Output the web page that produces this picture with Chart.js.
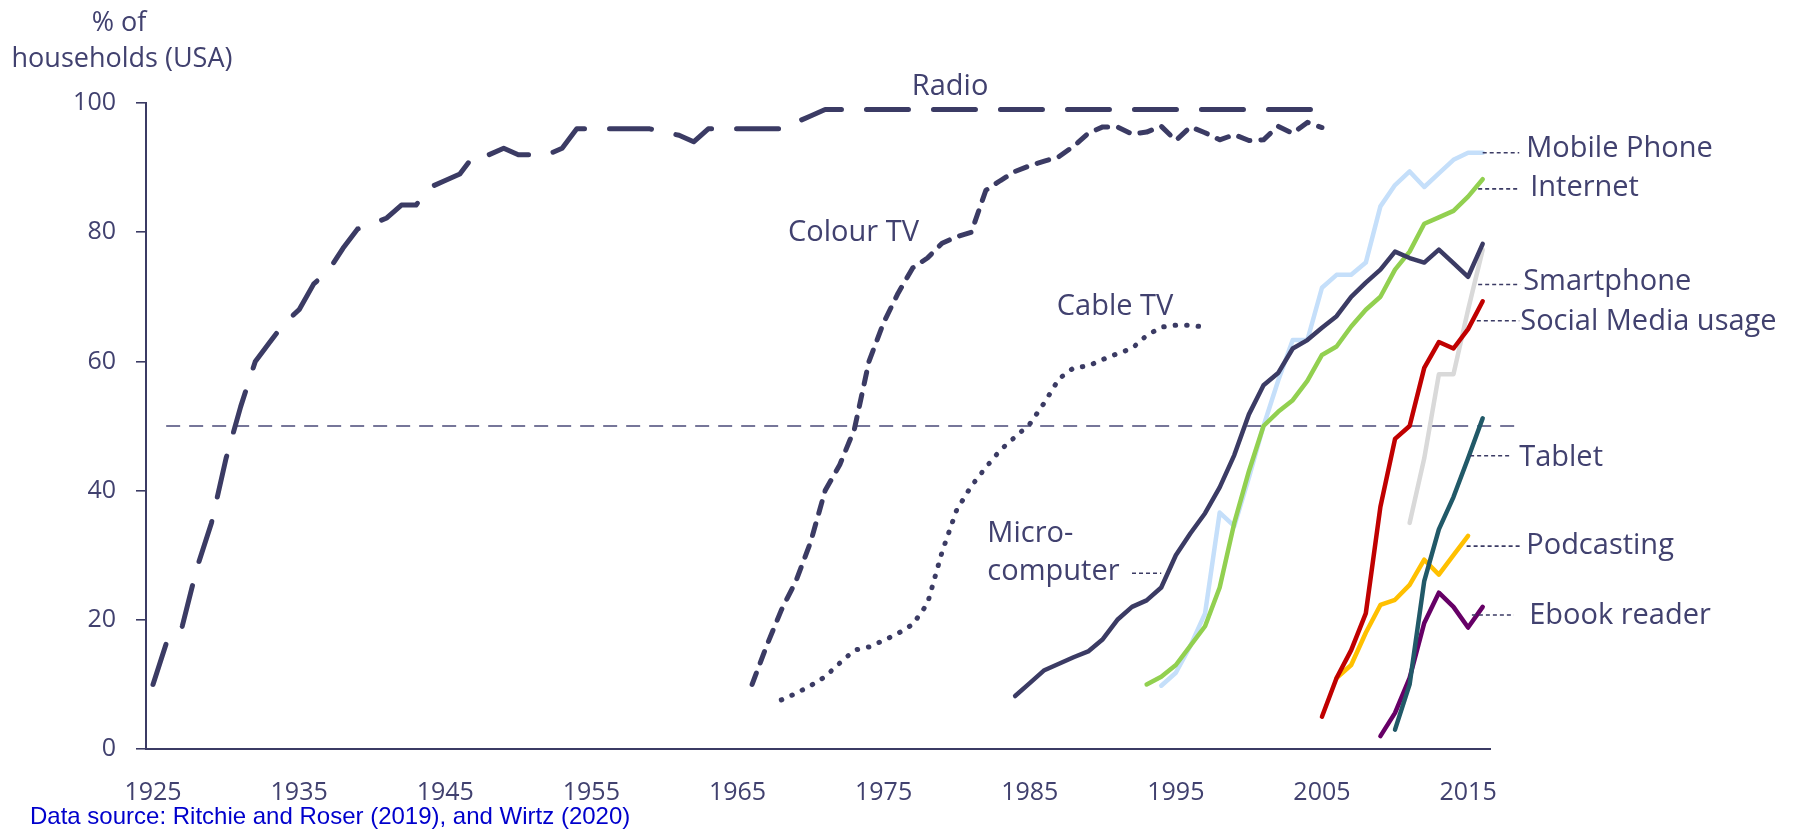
<!DOCTYPE html>
<html lang="en">
  <head>
    <meta charset="UTF-8" />
    <title>Technology adoption in US households</title>
    <style>
      html, body { margin: 0; padding: 0; background: #ffffff; }
      .container { position: relative; width: 1800px; height: 832px; }
    </style>
  </head>
  <body>
    <div class="container">
      <canvas id="myChart"></canvas>
    </div>
    <script src="https://cdn.jsdelivr.net/npm/chart.js"></script>
    <script>
      // x axis ticks
      const tickYears = [1925, 1935, 1945, 1955, 1965, 1975, 1985, 1995, 2005, 2015];

      // each series: first year + one value per year (% of US households)
      const radioStart = 1925;
      const radio = [10, 17, 19, 28, 35, 45, 53, 60, 63, 66, 68, 72, 74, 77.5, 80.5, 81.3, 82.2, 84.2, 84.2, 87,
        88, 89, 92, 92, 93, 92, 92, 92, 93, 96, 96, 96, 96, 96, 96, 95.5, 95, 94, 96, 96,
        96, 96, 96, 96, 97, 98, 99, 99, 99, 99, 99, 99, 99, 99, 99, 99, 99, 99, 99, 99,
        99, 99, 99, 99, 99, 99, 99, 99, 99, 99, 99, 99, 99, 99, 99, 99, 99, 99, 99, 99, 99];

      const colourTvStart = 1966;
      const colourTv = [10, 16, 21.5, 26, 32, 40, 44, 49.5, 60, 66, 70.6, 74.5, 76, 78.3, 79.3, 80, 86.5, 88, 89.4, 90.3,
        91, 91.7, 93.3, 95.3, 96.3, 96.3, 95.2, 95.5, 96.4, 94.2, 96.3, 95.4, 94.3, 95.1, 94.2, 94.3, 96.4, 95.3, 97, 96.2];

      const cableTvStart = 1968;
      const cableTv = [7.6, 8.6, 9.8, 11.2, 13.3, 15.3, 15.8, 16.8, 17.9, 19.3, 22.5, 30.5, 37, 40.7, 43.6, 46.3, 48.3, 50.3, 53.6, 57.3,
        59, 59.3, 60.3, 61.2, 62, 64, 65.3, 65.6, 65.6, 65.3];

      const microStart = 1984;
      const micro = [8.2, 10.2, 12.2, 13.2, 14.2, 15.1, 17, 20, 22, 23, 25, 30, 33.4, 36.5, 40.5, 45.5, 51.8, 56.3, 58.2, 62,
        63.3, 65.2, 67, 70, 72.2, 74.2, 77, 76, 75.3, 77.3, 75.2, 73.1, 78.2];

      const mobileStart = 1994;
      const mobile = [9.8, 11.8, 16, 21, 36.6, 34.5, 42, 50, 57, 63.3, 63.3, 71.4, 73.4, 73.4, 75.3, 84, 87.3, 89.4, 87, 89.1,
        91.2, 92.3, 92.3];

      const internetStart = 1993;
      const internet = [10, 11.2, 13, 16, 19, 25, 35, 43, 50, 52.2, 54, 57, 61, 62.3, 65.4, 68, 70, 74.2, 77, 81.3,
        82.3, 83.3, 85.5, 88.2];

      const smartphoneStart = 2011;
      const smartphone = [35, 45, 58, 58, 68, 77.3];

      const socialStart = 2005;
      const social = [5, 11, 15.3, 21, 37.5, 48, 50, 59, 63, 62, 65, 69.3];

      const tabletStart = 2010;
      const tablet = [3, 10, 26, 34, 39, 45, 51.2];

      const podcastStart = 2006;
      const podcast = [11, 13, 18, 22.3, 23.1, 25.4, 29.3, 27, 30, 33];

      const ebookStart = 2009;
      const ebook = [2, 5.6, 11, 19.5, 24.2, 22, 18.8, 22];

      // 50% reference line, from / to year
      const halfYears = [1925.9, 2018.5];
      const halfValue = 50;

      const navy = '#3b3b64';
      const textColor = '#41416f';
      const font = "'Open Sans', 'Noto Sans', sans-serif";

      const toPoints = (start, values) => values.map((v, i) => ({ x: start + i, y: v }));

      const line = (label, start, values, color, extra) => Object.assign({
        label: label,
        data: toPoints(start, values),
        borderColor: color,
        borderWidth: 4.5,
        borderCapStyle: 'round',
        borderJoinStyle: 'round',
        pointRadius: 0,
        tension: 0,
        fill: false,
      }, extra || {});

      // labels next to the lines, in data units (year, %)
      const notes = [
        { text: 'Radio', x: 1979.55, y: 102.5, align: 'center' },
        { text: 'Colour TV', x: 1968.46, y: 79.9 },
        { text: 'Cable TV', x: 1986.85, y: 68.5 },
        { text: 'Micro-', x: 1982.1, y: 33.3 },
        { text: 'computer', x: 1982.1, y: 27.5, lead: [1992.0, 1994.0, 27.2] },
        { text: 'Mobile Phone', x: 2018.98, y: 92.9, lead: [2016.0, 2018.5, 92.3] },
        { text: 'Internet', x: 2019.25, y: 86.9, lead: [2015.69, 2018.5, 86.7] },
        { text: 'Smartphone', x: 2018.77, y: 72.3, lead: [2015.69, 2018.57, 71.9] },
        { text: 'Social Media usage', x: 2018.57, y: 66.1, lead: [2015.6, 2018.5, 66.3] },
        { text: 'Tablet', x: 2018.5, y: 45.1, lead: [2015.14, 2017.86, 45.4] },
        { text: 'Podcasting', x: 2018.98, y: 31.4, lead: [2014.9, 2018.57, 31.4] },
        { text: 'Ebook reader', x: 2019.18, y: 20.6, lead: [2015.26, 2018.14, 20.75] },
      ];

      const notesPlugin = {
        id: 'notes',
        afterDatasetsDraw(chart) {
          const { ctx, scales } = chart;
          const xs = scales.x, ys = scales.y;
          ctx.save();
          notes.forEach((n) => {
            if (n.lead) {
              ctx.beginPath();
              ctx.setLineDash([4, 3]);
              ctx.lineWidth = 1.6;
              ctx.strokeStyle = navy;
              const ly = ys.getPixelForValue(n.lead[2]);
              ctx.moveTo(xs.getPixelForValue(n.lead[0]), ly);
              ctx.lineTo(xs.getPixelForValue(n.lead[1]), ly);
              ctx.stroke();
            }
            ctx.setLineDash([]);
            ctx.fillStyle = textColor;
            ctx.font = '29px ' + font;
            ctx.textAlign = n.align || 'left';
            ctx.textBaseline = 'middle';
            ctx.fillText(n.text, xs.getPixelForValue(n.x), ys.getPixelForValue(n.y));
          });
          ctx.restore();
        },
        afterDraw(chart) {
          const ctx = chart.ctx;
          ctx.save();
          ctx.fillStyle = textColor;
          ctx.font = '27px ' + font;
          ctx.textAlign = 'center';
          ctx.textBaseline = 'middle';
          ctx.fillText('% of', 119, 23);
          ctx.fillText('households (USA)', 122, 59);
          ctx.fillStyle = '#0000cc';
          ctx.font = "24px 'Liberation Sans', Arial, sans-serif";
          ctx.textAlign = 'left';
          ctx.fillText('Data source: Ritchie and Roser (2019), and Wirtz (2020)', 30, 817);
          ctx.restore();
        },
      };

      const data = {
        datasets: [
          line('Radio', radioStart, radio, navy, { borderWidth: 5, borderDash: [42, 25] }),
          line('Colour TV', colourTvStart, colourTv, navy, { borderWidth: 5, borderDash: [12, 11] }),
          line('Cable TV', cableTvStart, cableTv, navy, { borderWidth: 5, borderDash: [0.5, 11] }),
          line('Microcomputer', microStart, micro, navy),
          line('Tablet', tabletStart, tablet, '#215968'),
          line('Ebook reader', ebookStart, ebook, '#660066'),
          line('Social Media usage', socialStart, social, '#c00000'),
          line('Podcasting', podcastStart, podcast, '#ffc000'),
          line('Internet', internetStart, internet, '#92d050'),
          line('Smartphone', smartphoneStart, smartphone, '#d9d9d9'),
          line('Mobile Phone', mobileStart, mobile, '#c5dffa'),
          {
            label: '50%',
            data: halfYears.map((yr) => ({ x: yr, y: halfValue })),
            borderColor: '#4a4a78',
            borderWidth: 1.6,
            borderDash: [14, 9],
            pointRadius: 0,
            clip: false,
          },
        ],
      };

      const config = {
        type: 'line',
        data: data,
        plugins: [notesPlugin],
        options: {
          animation: false,
          responsive: true,
          maintainAspectRatio: false,
          layout: { padding: { top: 103, right: 310, left: 0, bottom: 0 } },
          plugins: {
            legend: { display: false },
            tooltip: { enabled: false },
          },
          scales: {
            x: {
              type: 'linear',
              min: 1924.52,
              max: 2016.5,
              afterBuildTicks: (scale) => {
                scale.ticks = tickYears.map((v) => ({ value: v }));
              },
              afterFit: (scale) => { scale.height = 83; },
              grid: { drawOnChartArea: false, drawTicks: false, color: navy },
              border: { display: true, color: navy, width: 2 },
              ticks: {
                color: textColor,
                font: { family: font, size: 25 },
                padding: 29,
                maxRotation: 0,
                autoSkip: false,
                callback: (v) => String(v),
              },
            },
            y: {
              min: 0,
              max: 100,
              afterFit: (scale) => { scale.width = 146; },
              grid: { drawOnChartArea: false, drawTicks: true, tickLength: 10, color: navy, lineWidth: 1.6 },
              border: { display: true, color: navy, width: 2 },
              ticks: {
                stepSize: 20,
                color: textColor,
                font: { family: font, size: 25 },
                padding: 20,
              },
            },
          },
        },
      };

      const myChart = new Chart(document.getElementById('myChart'), config);
    </script>
  </body>
</html>
